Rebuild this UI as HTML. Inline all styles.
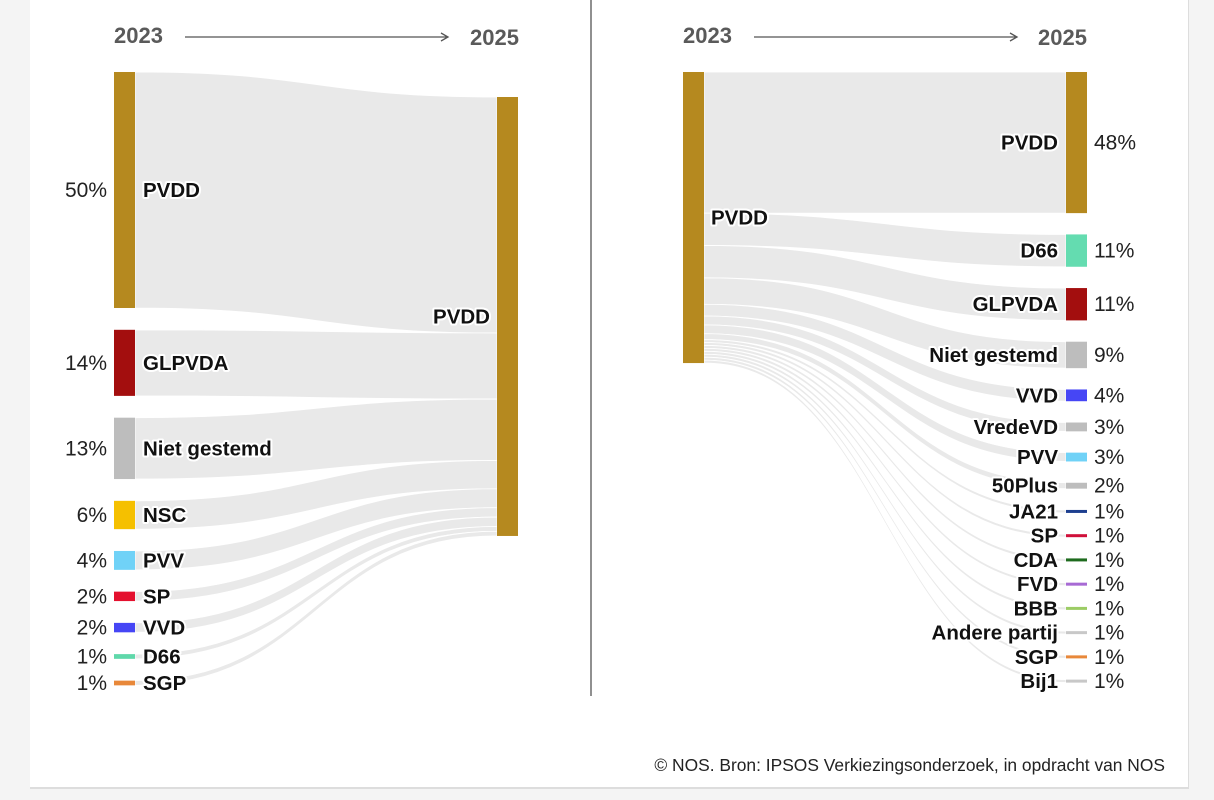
<!DOCTYPE html>
<html><head><meta charset="utf-8">
<style>
html,body{margin:0;padding:0;background:#f4f4f4;}
body{width:1214px;height:800px;overflow:hidden;position:relative;font-family:"Liberation Sans",sans-serif;}
#card{position:absolute;left:30px;top:0;width:1158px;height:787px;background:#fff;border-right:1px solid #ddd;border-bottom:2px solid #ddd;}
svg{position:absolute;left:0;top:0;}
.lbl{font-weight:bold;font-size:20.5px;fill:#111;paint-order:stroke;stroke:#fff;stroke-width:4px;stroke-linejoin:round;}
.pct{font-size:21px;fill:#222;}
.yr{font-weight:bold;font-size:22px;fill:#5a5a5a;}
</style></head>
<body>
<div id="card"></div>
<svg id="chart" width="1214" height="800">
<line x1="591" y1="0" x2="591" y2="696" stroke="#222" stroke-width="1"/>
<text x="1165" y="771" text-anchor="end" font-size="17.4" fill="#222">© NOS. Bron: IPSOS Verkiezingsonderzoek, in opdracht van NOS</text>
</svg>
<script>
// Left chart: 2023 parties -> PVDD 2025
const leftCats = ["PVDD","GLPVDA","Niet gestemd","NSC","PVV","SP","VVD","D66","SGP"];
const leftVals = [50,14,13,6,4,2,2,1,1];
const leftColors = ["#b5891f","#a30e0e","#bdbdbd","#f5c000","#70d2f7","#e4102e","#4646f5","#5fd8aa","#e8883a"];
// Right chart: PVDD 2023 -> 2025 parties
const rightCats = ["PVDD","D66","GLPVDA","Niet gestemd","VVD","VredeVD","PVV","50Plus","JA21","SP","CDA","FVD","BBB","Andere partij","SGP","Bij1"];
const rightVals = [48,11,11,9,4,3,3,2,1,1,1,1,1,1,1,1];
const rightColors = ["#b5891f","#64dcb0","#a30e0e","#bdbdbd","#4646f5","#bdbdbd","#70d2f7","#bdbdbd","#1d3f8f","#d0103a","#1e6b1e","#a76ad4","#9ccc65","#c8c8c8","#e8883a","#c8c8c8"];

const NS="http://www.w3.org/2000/svg";
const svg=document.getElementById('chart');
function el(tag,attrs,txt){const e=document.createElementNS(NS,tag);for(const k in attrs)e.setAttribute(k,attrs[k]);if(txt!==undefined)e.textContent=txt;svg.appendChild(e);return e;}
function band(x0,y0a,y0b,x1,y1a,y1b){const m=(x0+x1)/2;return `M${x0},${y0a}C${m},${y0a} ${m},${y1a} ${x1},${y1a}L${x1},${y1b}C${m},${y1b} ${m},${y0b} ${x0},${y0b}Z`;}

function header(xl,xr,xa0,xa1){
  let t=el('text',{x:xl,y:43,class:'yr'},'2023');
  
  
  t=el('text',{x:xr,y:45,class:'yr','text-anchor':'end'},'2025');
  
  
  const a=el('path',{d:`M${xa0},37H${xa1}M${xa1-7},33L${xa1},37L${xa1-7},41`,stroke:'#555','stroke-width':1.3,fill:'none'});
  
  
}

// ---- Left chart ----
(function(){
  const scale=4.72, gap=21.8, top=72, nx0=114, nw=21, rx=497;
  header(114,519,185,448);
  const total=leftVals.reduce((a,b)=>a+b,0);
  const rTop=top+25;
  let y=top, ry=rTop;
  const nodes=[];
  leftVals.forEach((v,i)=>{const h=v*scale;nodes.push({y,h,ry});y+=h+gap;ry+=h;});
  nodes.forEach((n,i)=>{
    const p=el('path',{d:band(nx0+nw,n.y,n.y+n.h,rx,n.ry,n.ry+n.h),fill:'#e9e9e9',stroke:'#fff','stroke-width':0.8});
    
    
  });
  nodes.forEach((n,i)=>{
    const r=el('rect',{x:nx0,y:n.y,width:nw,height:Math.max(n.h,3),fill:leftColors[i]});
    
    
    const cy=n.y+n.h/2+7;
    const l=el('text',{x:143,y:cy,class:'lbl'},leftCats[i]);
    
    
    const pc=el('text',{x:107,y:cy,class:'pct','text-anchor':'end'},leftVals[i]+'%');
    
    
  });
  const rh=total*scale;
  const r=el('rect',{x:rx,y:rTop,width:nw,height:rh,fill:'#b5891f'});
  
  
  const t=el('text',{x:490,y:rTop+rh/2+7,class:'lbl','text-anchor':'end'},'PVDD');
  
  
})();

// ---- Right chart ----
(function(){
  const scale=2.94, gap=21.3, top=72, lx=683, nw=21, rx=1066;
  header(683,1087,754,1017);
  const total=rightVals.reduce((a,b)=>a+b,0);
  let y=top, ly=top;
  const nodes=[];
  rightVals.forEach((v,i)=>{const h=v*scale;nodes.push({y,h,ly});y+=h+gap;ly+=h;});
  nodes.forEach((n,i)=>{
    const p=el('path',{d:band(lx+nw,n.ly,n.ly+n.h,rx,n.y,n.y+n.h),fill:'#e9e9e9',stroke:'#fff','stroke-width':0.8});
    
    
  });
  const lh=total*scale;
  const lr=el('rect',{x:lx,y:top,width:nw,height:lh,fill:'#b5891f'});
  
  
  const lt=el('text',{x:711,y:top+lh/2+7,class:'lbl'},'PVDD');
  
  
  nodes.forEach((n,i)=>{
    const r=el('rect',{x:rx,y:n.y,width:nw,height:Math.max(n.h,3),fill:rightColors[i]});
    
    
    const cy=n.y+n.h/2+7;
    const l=el('text',{x:1058,y:cy,class:'lbl','text-anchor':'end'},rightCats[i]);
    
    
    const pc=el('text',{x:1094,y:cy,class:'pct'},rightVals[i]+'%');
    
    
  });
})();
</script>
</body></html>
